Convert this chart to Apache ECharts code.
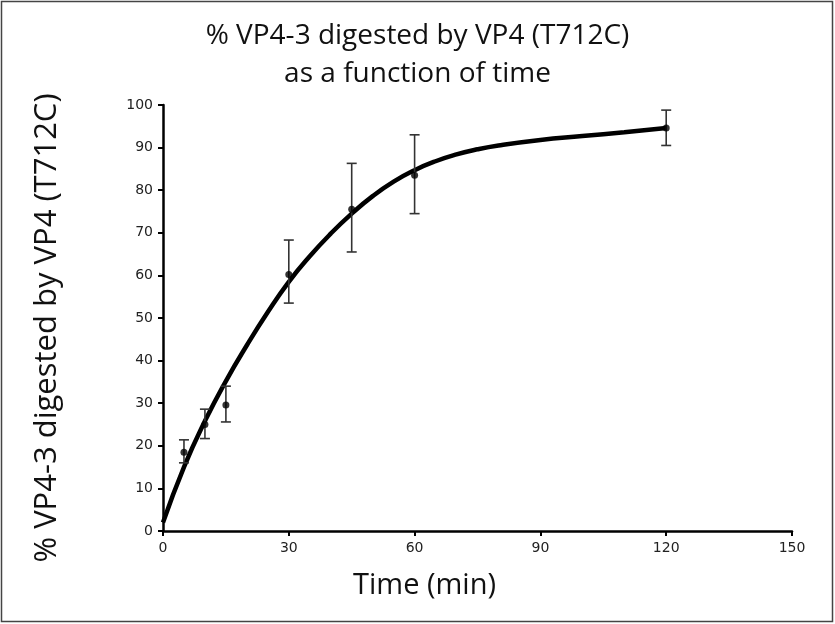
<!DOCTYPE html>
<html>
<head>
<meta charset="utf-8">
<script src="https://cdn.jsdelivr.net/npm/echarts@6/dist/echarts.min.js"></script>
<style>
  html, body { margin: 0; padding: 0; background: #fff; }
  #chart { width: 835px; height: 624px; }
</style>
</head>
<body>
<div id="chart"></div>
<script>
// 测量点 (time in min)
var times = [5, 10, 15, 30, 45, 60, 120]
var means = [18.5, 25, 29.6, 60.2, 75.5, 83.5, 94.6]
var errLow = [16, 21.7, 25.6, 53.5, 65.5, 74.5, 90.5]
var errHigh = [21.4, 28.6, 34, 68.3, 86.3, 93, 98.8]

// 拟合曲线，从图上读的
var fitTimes = [0, 5, 10, 15, 20, 25, 30, 35, 40, 45, 50, 55, 60, 65, 70, 75, 80, 90, 100, 110, 120]
var fitValues = [2, 15, 25.8, 35.2, 43.6, 51.4, 58.5, 64.5, 69.8, 74.5, 78.6, 82, 84.7, 86.8, 88.4, 89.6, 90.5, 91.8, 92.7, 93.6, 94.6]

var xTicks = [0, 30, 60, 90, 120, 150]
var yTicks = [0, 10, 20, 30, 40, 50, 60, 70, 80, 90, 100]

var myChart = echarts.init(document.getElementById('chart'))

var pointData = times.map(function (t, i) { return [t, means[i]] })
var errData = times.map(function (t, i) { return [t, errLow[i], errHigh[i]] })
var fitData = fitTimes.map(function (t, i) { return [t, fitValues[i]] })

var option = {
  animation: false,
  backgroundColor: '#fff',
  title: {
    text: '% VP4-3 digested by VP4 (T712C)\nas a function of time',
    left: 'center',
    top: 12,
    textStyle: {
      fontFamily: 'Open Sans',
      fontWeight: 'normal',
      fontSize: 28,
      lineHeight: 38,
      color: '#111'
    }
  },
  graphic: [{
    type: 'rect',
    shape: { x: 1.5, y: 1.5, width: 831, height: 620 },
    style: { fill: 'none', stroke: '#444', lineWidth: 1.5 },
    silent: true
  }],
  grid: { left: 163, right: 43, top: 105, bottom: 93 },
  xAxis: {
    type: 'value',
    min: xTicks[0],
    max: xTicks[xTicks.length - 1],
    interval: 30,
    name: 'Time (min)',
    nameLocation: 'middle',
    nameGap: 40,
    nameTextStyle: {
      fontFamily: 'Open Sans',
      fontSize: 29,
      color: '#111',
      padding: [0, 106, 0, 0]
    },
    axisLine: { lineStyle: { color: '#000', width: 2.5 } },
    axisTick: { show: true, length: 5, lineStyle: { color: '#000', width: 2 } },
    axisLabel: { fontFamily: 'DejaVu Sans', fontSize: 14, color: '#222', margin: 10 },
    splitLine: { show: false }
  },
  yAxis: {
    type: 'value',
    min: yTicks[0],
    max: yTicks[yTicks.length - 1],
    interval: 10,
    name: '% VP4-3 digested by VP4 (T712C)',
    nameLocation: 'middle',
    nameGap: 100,
    nameTextStyle: {
      fontFamily: 'Open Sans',
      fontSize: 31,
      color: '#111',
      padding: [0, 20, 0, 0]
    },
    axisLine: { show: true, lineStyle: { color: '#000', width: 2.5 } },
    axisTick: { show: true, length: 5, lineStyle: { color: '#000', width: 2 } },
    axisLabel: { fontFamily: 'DejaVu Sans', fontSize: 14, color: '#222', margin: 10 },
    splitLine: { show: false }
  },
  series: [
    {
      name: 'fit',
      type: 'line',
      data: fitData,
      smooth: true,
      showSymbol: false,
      lineStyle: { color: '#000', width: 4.5 },
      z: 3
    },
    {
      name: 'error',
      type: 'custom',
      data: errData,
      renderItem: function (params, api) {
        var x = api.value(0)
        var lo = api.coord([x, api.value(1)])
        var hi = api.coord([x, api.value(2)])
        var cap = 5
        var style = { stroke: '#333', lineWidth: 1.6 }
        return {
          type: 'group',
          children: [
            { type: 'line', shape: { x1: lo[0], y1: lo[1], x2: hi[0], y2: hi[1] }, style: style },
            { type: 'line', shape: { x1: lo[0] - cap, y1: lo[1], x2: lo[0] + cap, y2: lo[1] }, style: style },
            { type: 'line', shape: { x1: hi[0] - cap, y1: hi[1], x2: hi[0] + cap, y2: hi[1] }, style: style }
          ]
        }
      },
      z: 4
    },
    {
      name: 'points',
      type: 'scatter',
      data: pointData,
      symbolSize: 7,
      itemStyle: { color: '#000' },
      z: 5
    }
  ]
}
myChart.setOption(option, true)
</script>
</body>
</html>
